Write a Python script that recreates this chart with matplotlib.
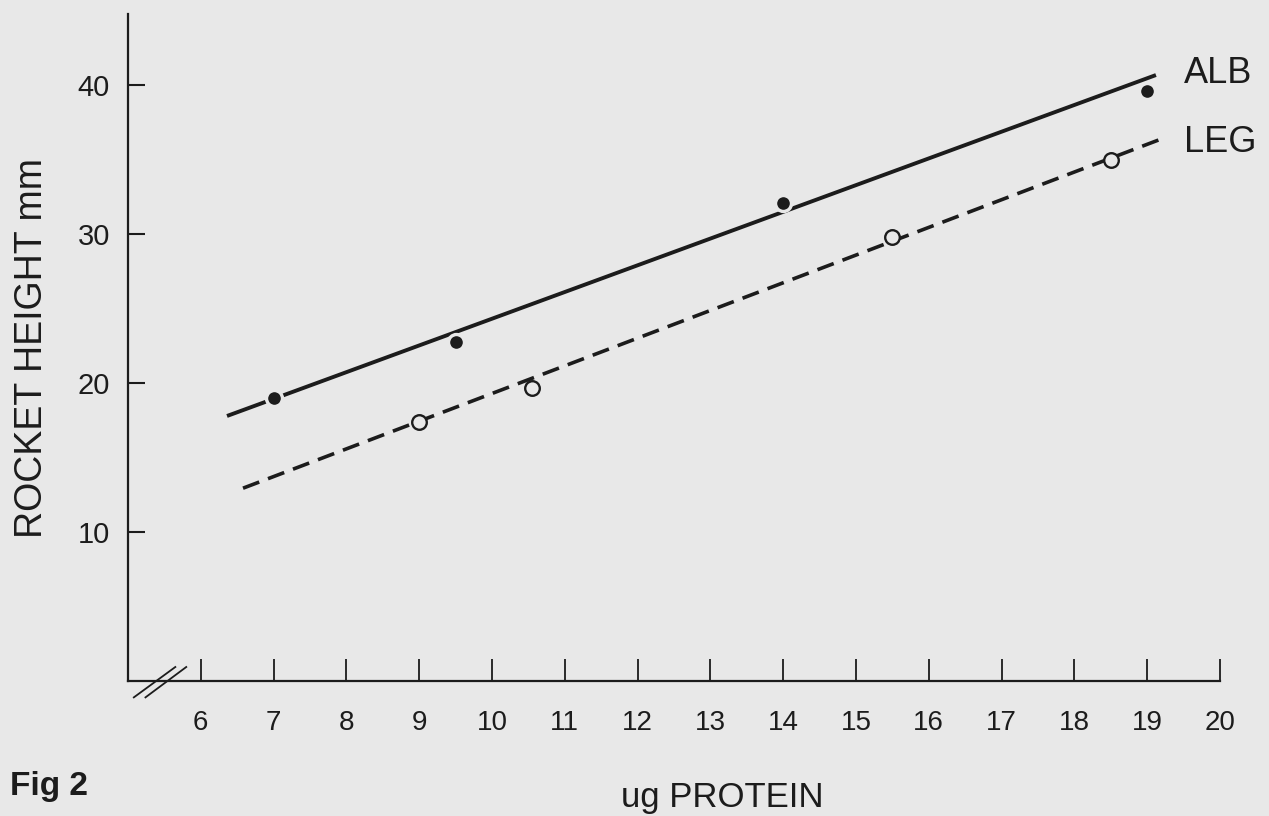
import matplotlib.pyplot as plt

BG = "#e8e8e8"
INK = "#1c1c1c"

# points
alb_x = [7, 9.5, 14, 19]
alb_y = [19.0, 22.8, 32.1, 39.6]
leg_x = [9, 10.55, 15.5, 18.5]
leg_y = [17.4, 19.7, 29.8, 35.0]

# regression lines as drawn (end points)
alb_fit_x = [6.36, 19.12]
alb_fit_y = [17.8, 40.7]
leg_fit_x = [6.58, 19.19]
leg_fit_y = [12.95, 36.4]

x_ticks = list(range(6, 21))
y_ticks = [10, 20, 30, 40]

plt.rcParams["font.family"] = ["Liberation Sans", "DejaVu Sans"]

fig = plt.figure(figsize=(12.69, 8.16), dpi=100, facecolor=BG)
ax = fig.add_axes([128 / 1269, 135 / 816, 1092 / 1269, 667 / 816])
ax.set_facecolor(BG)

ax.plot(alb_fit_x, alb_fit_y, color=INK, lw=2.8, solid_capstyle="butt", zorder=2)
ax.plot(leg_fit_x, leg_fit_y, color=INK, lw=2.6, dashes=(4.8, 2.6),
        dash_capstyle="butt", zorder=2)

# filled dots with a paper coloured ring so the line looks broken round them
ax.plot(alb_x, alb_y, "o", ms=11.5, mfc=INK, mec=BG, mew=2.4, zorder=3)
ax.plot(leg_x, leg_y, "o", ms=10.5, mfc=BG, mec=INK, mew=1.7, zorder=3)

ax.text(19.5, 40.8, "ALB", fontsize=26, color=INK, va="center", ha="left")
ax.text(19.5, 36.2, "LEG", fontsize=26, color=INK, va="center", ha="left")

ax.set_xlim(5, 20)
ax.set_ylim(0, 44.8)
ax.set_xticks(x_ticks)
ax.set_yticks(y_ticks)
ax.spines["top"].set_visible(False)
ax.spines["right"].set_visible(False)
for s in ("left", "bottom"):
    ax.spines[s].set_linewidth(1.6)
    ax.spines[s].set_color(INK)
ax.tick_params(axis="x", direction="in", length=16, width=1.3, pad=21,
               labelsize=20, colors=INK)
ax.tick_params(axis="y", direction="in", length=12, width=1.5, pad=13,
               labelsize=21, colors=INK)

# axis break on the x axis
ax.plot([5.08, 5.65], [-1.1, 0.94], color=INK, lw=1.3, clip_on=False)
ax.plot([5.24, 5.80], [-1.1, 0.94], color=INK, lw=1.3, clip_on=False)

ax.set_xlabel("ug PROTEIN", fontsize=25, color=INK)
ax.xaxis.set_label_coords(0.544, -0.174)
ax.xaxis.label.set_verticalalignment("center")
ax.set_ylabel("ROCKET HEIGHT mm", fontsize=27, color=INK)
ax.yaxis.set_label_coords(-0.088, 0.50)
ax.yaxis.label.set_verticalalignment("center")

fig.text(10 / 1269, 1 - 786 / 816, "Fig 2", fontsize=24, fontweight="bold",
         color=INK, va="center", ha="left")

fig.savefig("out.png", dpi=100, facecolor=BG)
